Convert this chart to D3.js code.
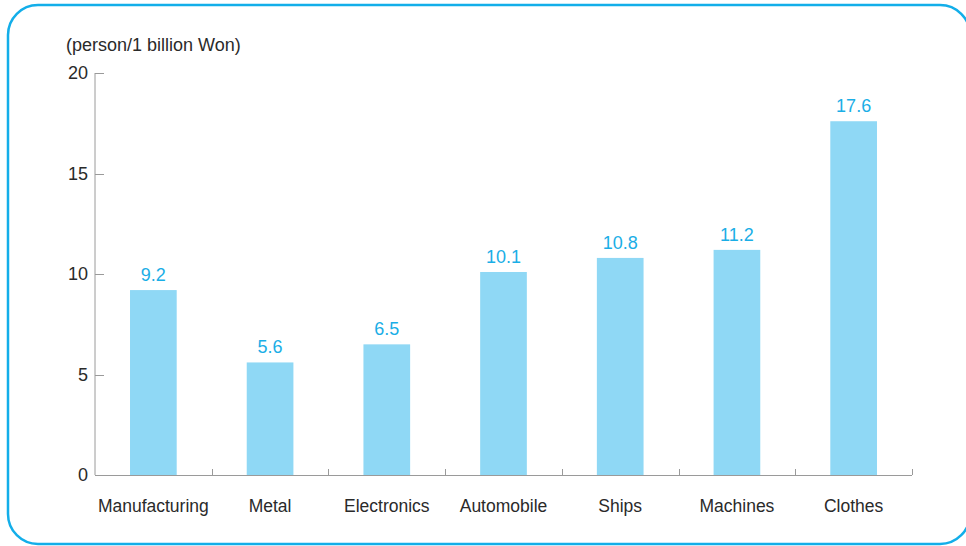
<!DOCTYPE html>
<html>
<head>
<meta charset="utf-8">
<script src="https://cdn.jsdelivr.net/npm/d3@7"></script>
<style>
  body { margin: 0; background: #fff; }
  svg { display: block; font-family: "Liberation Sans", Arial, sans-serif; }
</style>
</head>
<body>
<div id="chart"></div>
<script>
// chart data
var categories = ["Manufacturing", "Metal", "Electronics", "Automobile", "Ships", "Machines", "Clothes"];
var values = [9.2, 5.6, 6.5, 10.1, 10.8, 11.2, 17.6];
var yTicks = [0, 5, 10, 15, 20];
var unitLabel = "(person/1 billion Won)";

var width = 966, height = 546;
var margin = {top: 73, right: 54, bottom: 71, left: 95};

var svg = d3.select("#chart").append("svg")
    .attr("width", width)
    .attr("height", height);

// rounded frame round the whole chart
svg.append("rect")
    .attr("x", 8).attr("y", 5)
    .attr("width", 962).attr("height", 539)
    .attr("rx", 30).attr("ry", 30)
    .attr("fill", "none")
    .attr("stroke", "#13aee9")
    .attr("stroke-width", 2.5);

var x = d3.scaleBand()
    .domain(categories)
    .range([margin.left, width - margin.right])
    .paddingInner(0);

var y = d3.scaleLinear()
    .domain([0, 20])
    .range([height - margin.bottom, margin.top]);

var axisColor = "#9a9a9a";
var textColor = "#2a2a2a";

// y axis: line with ticks pointing right
svg.append("line")
    .attr("x1", margin.left).attr("x2", margin.left)
    .attr("y1", y(0)).attr("y2", y(20))
    .attr("stroke", axisColor);

svg.selectAll(".ytick")
    .data(yTicks.filter(function (d) { return d > 0; }))
    .enter().append("line")
    .attr("x1", margin.left).attr("x2", margin.left + 9)
    .attr("y1", function (d) { return Math.round(y(d)) + 0.5; })
    .attr("y2", function (d) { return Math.round(y(d)) + 0.5; })
    .attr("stroke", axisColor);

svg.selectAll(".ylabel")
    .data(yTicks)
    .enter().append("text")
    .attr("x", margin.left - 7)
    .attr("y", function (d) { return y(d); })
    .attr("dy", "0.35em")
    .attr("text-anchor", "end")
    .attr("font-size", 18)
    .attr("fill", textColor)
    .text(function (d) { return d; });

// bars
var barW = x.bandwidth() * 0.4;
svg.selectAll(".bar")
    .data(values)
    .enter().append("rect")
    .attr("x", function (d, i) { return x(categories[i]) + (x.bandwidth() - barW) / 2; })
    .attr("y", function (d) { return y(d); })
    .attr("width", barW)
    .attr("height", function (d) { return y(0) - y(d); })
    .attr("fill", "#8fd8f5");

// x axis line with upward ticks at band edges
svg.append("line")
    .attr("x1", margin.left).attr("x2", width - margin.right)
    .attr("y1", y(0) + 0.5).attr("y2", y(0) + 0.5)
    .attr("stroke", axisColor);

svg.selectAll(".xtick")
    .data(categories)
    .enter().append("line")
    .attr("x1", function (d) { return Math.round(x(d) + x.bandwidth()) + 0.5; })
    .attr("x2", function (d) { return Math.round(x(d) + x.bandwidth()) + 0.5; })
    .attr("y1", y(0)).attr("y2", y(0) - 6)
    .attr("stroke", axisColor);

svg.selectAll(".xlabel")
    .data(categories)
    .enter().append("text")
    .attr("x", function (d) { return x(d) + x.bandwidth() / 2; })
    .attr("y", y(0) + 31)
    .attr("dy", "0.35em")
    .attr("text-anchor", "middle")
    .attr("font-size", 17.5)
    .attr("fill", textColor)
    .text(function (d) { return d; });

// value labels
svg.selectAll(".vlabel")
    .data(values)
    .enter().append("text")
    .attr("x", function (d, i) { return x(categories[i]) + x.bandwidth() / 2; })
    .attr("y", function (d) { return y(d) - 9; })
    .attr("text-anchor", "middle")
    .attr("font-size", 18)
    .attr("fill", "#1aaee6")
    .text(function (d) { return d.toFixed(1); });

// unit label
svg.append("text")
    .attr("x", 66).attr("y", 45)
    .attr("dy", "0.35em")
    .attr("font-size", 18)
    .attr("fill", textColor)
    .text(unitLabel);
</script>
</body>
</html>
